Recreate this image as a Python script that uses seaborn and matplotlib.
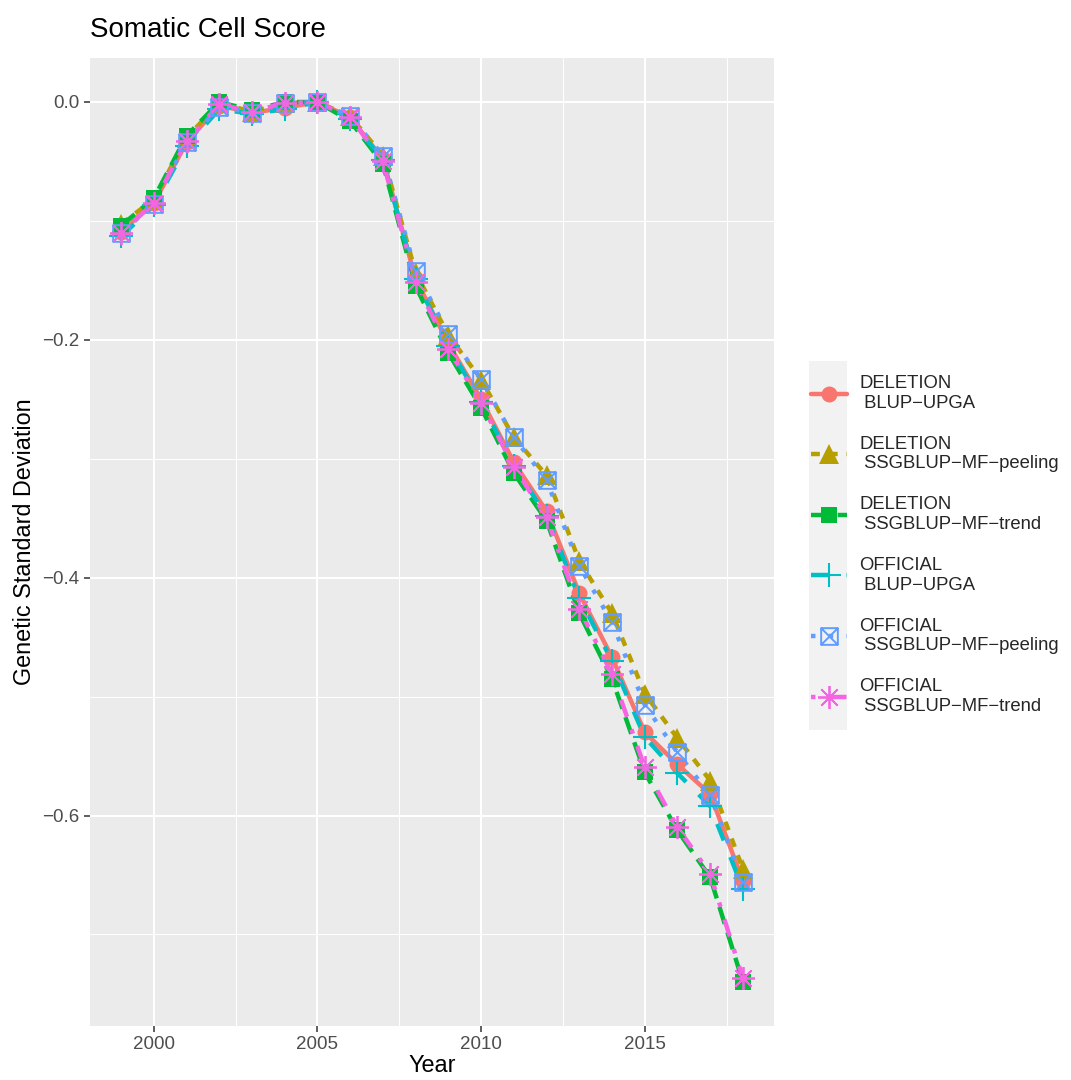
import numpy as np
import pandas as pd
import matplotlib
matplotlib.use("Agg")
import matplotlib.pyplot as plt
from matplotlib.path import Path
from matplotlib.lines import Line2D
from matplotlib.patches import Rectangle
import seaborn as sns

# ---------------- data ----------------
years = list(range(1999, 2019))

deletion_blup_upga = [-0.109, -0.085, -0.034, -0.003, -0.009, -0.005, 0.000, -0.013, -0.048, -0.149,
                      -0.203, -0.250, -0.303, -0.344, -0.413, -0.467, -0.530, -0.557, -0.582, -0.655]
deletion_ssgblup_peeling = [-0.1025, -0.082, -0.030, -0.001, -0.008, -0.001, 0.000, -0.012, -0.045, -0.1435,
                            -0.196, -0.2335, -0.282, -0.314, -0.386, -0.430, -0.4975, -0.535, -0.5706, -0.645]
deletion_ssgblup_trend = [-0.104, -0.081, -0.0285, 0.000, -0.007, 0.000, 0.000, -0.016, -0.052, -0.155,
                          -0.211, -0.257, -0.312, -0.352, -0.430, -0.485, -0.5636, -0.6126, -0.652, -0.740]
official_blup_upga = [-0.113, -0.087, -0.037, -0.006, -0.010, -0.006, 0.000, -0.014, -0.049, -0.149,
                      -0.205, -0.252, -0.306, -0.348, -0.417, -0.470, -0.534, -0.5645, -0.592, -0.6616]
official_ssgblup_peeling = [-0.110, -0.086, -0.034, -0.004, -0.009, -0.001, 0.000, -0.012, -0.045, -0.142,
                            -0.195, -0.233, -0.282, -0.318, -0.390, -0.4375, -0.507, -0.547, -0.583, -0.656]
official_ssgblup_trend = [-0.110, -0.085, -0.033, -0.002, -0.008, -0.001, 0.000, -0.013, -0.050, -0.151,
                          -0.208, -0.253, -0.307, -0.349, -0.426, -0.481, -0.5595, -0.610, -0.649, -0.737]

series_labels = ["DELETION\n BLUP\u2212UPGA",
                 "DELETION\n SSGBLUP\u2212MF\u2212peeling",
                 "DELETION\n SSGBLUP\u2212MF\u2212trend",
                 "OFFICIAL\n BLUP\u2212UPGA",
                 "OFFICIAL\n SSGBLUP\u2212MF\u2212peeling",
                 "OFFICIAL\n SSGBLUP\u2212MF\u2212trend"]
series_values = [deletion_blup_upga, deletion_ssgblup_peeling, deletion_ssgblup_trend,
                 official_blup_upga, official_ssgblup_peeling, official_ssgblup_trend]

x_ticks = [2000, 2005, 2010, 2015]
y_ticks = [-0.6, -0.4, -0.2, 0.0]
y_tick_labels = ["\u22120.6", "\u22120.4", "\u22120.2", "0.0"]

title_text = "Somatic Cell Score"
x_title = "Year"
y_title = "Genetic Standard Deviation"

df = pd.DataFrame({
    "Year": np.tile(years, len(series_labels)),
    "Value": np.concatenate(series_values),
    "Method": np.repeat(series_labels, len(years)),
})

# ---------------- styles ----------------
colors = ["#F8766D", "#B79F00", "#00BA38", "#00BFC4", "#619CFF", "#F564E3"]
box_x = Path([(-1, -1), (1, -1), (1, 1), (-1, 1), (-1, -1), (-1, -1), (1, 1), (-1, 1), (1, -1)],
             [Path.MOVETO, Path.LINETO, Path.LINETO, Path.LINETO, Path.CLOSEPOLY,
              Path.MOVETO, Path.LINETO, Path.MOVETO, Path.LINETO])
markers = ["o", "^", "s", "+", box_x, (8, 2, 0)]
filled = [True, True, True, False, False, False]
msizes = [11.5, 14.0, 11.5, 17.0, 12.0, 16.5]
mews = [0, 0, 0, 1.5, 1.4, 1.3]
linestyles = ["-", (0, (2, 2)), (0, (4, 2)), (0, (4, 4)), (0, (1, 3)), (0, (1, 3, 4, 3))]
LW = 3.2

sns.set_style("darkgrid", {"axes.facecolor": "#EBEBEB", "grid.color": "white"})
plt.rcParams["font.family"] = ["Liberation Sans", "DejaVu Sans"]

W, H = 1071, 1080
fig = plt.figure(figsize=(W / 100, H / 100), dpi=100)
fig.patch.set_facecolor("white")
pl, pr, pt, pb = 90, 774, 58, 1026
ax = fig.add_axes([pl / W, 1 - pb / H, (pr - pl) / W, (pb - pt) / H])

# lines first (all), then points (all) like ggplot layers
for lab, c, ls in zip(series_labels, colors, linestyles):
    sub = df[df["Method"] == lab]
    sns.lineplot(data=sub, x="Year", y="Value", color=c, linewidth=LW, linestyle=ls,
                 ax=ax, legend=False, errorbar=None, zorder=2)
for lab, c, m, f, ms, mw in zip(series_labels, colors, markers, filled, msizes, mews):
    sub = df[df["Method"] == lab]
    sns.lineplot(data=sub, x="Year", y="Value", color=c, linestyle="", marker=m,
                 markersize=ms, markerfacecolor=(c if f else "none"), markeredgecolor=c,
                 markeredgewidth=mw, ax=ax, legend=False, errorbar=None, zorder=3)

# scales
xr = max(years) - min(years)
ax.set_xlim(min(years) - 0.05 * xr, max(years) + 0.05 * xr)
allv = np.concatenate(series_values)
yr = allv.max() - allv.min()
ax.set_ylim(allv.min() - 0.05 * yr, allv.max() + 0.05 * yr)
ax.set_xticks(x_ticks)
ax.set_xticks([2002.5, 2007.5, 2012.5, 2017.5], minor=True)
ax.set_yticks(y_ticks)
ax.set_yticklabels(y_tick_labels)
ax.set_yticks([-0.7, -0.5, -0.3, -0.1], minor=True)
ax.grid(which="major", color="white", linewidth=1.5)
ax.grid(which="minor", color="white", linewidth=0.75)
ax.set_axisbelow(True)
for s in ax.spines.values():
    s.set_visible(False)
ax.tick_params(which="major", length=4.0, width=1.1, color="#333333", labelsize=13.5,
               labelcolor="#4D4D4D", pad=3.5, bottom=True, left=True)
ax.tick_params(which="minor", length=0)

ax.set_xlabel(x_title, fontsize=16.8, color="black")
ax.set_ylabel(y_title, fontsize=16.8, color="black")
ax.xaxis.label.set(va="center", ha="center")
ax.xaxis.set_label_coords(0.5, (pb - 1066) / (pb - pt))
ax.yaxis.label.set(va="center", ha="center", rotation_mode="anchor")
ax.yaxis.set_label_coords((24 - pl) / (pr - pl), 0.5)

fig.text(pl / W, 1 - 37 / H, title_text, fontsize=20, color="black", ha="left", va="baseline")

# legend
handles = []
for c, m, f, ms, mw, ls in zip(colors, markers, filled, msizes, mews, linestyles):
    handles.append(Line2D([], [], color=c, linewidth=LW, linestyle=ls, marker=m, markersize=ms,
                          markerfacecolor=(c if f else "none"), markeredgecolor=c,
                          markeredgewidth=mw))
leg = ax.legend(handles, series_labels, loc="center left",
                bbox_to_anchor=(811 / W, 1 - 545 / H), bbox_transform=fig.transFigure,
                frameon=False, borderpad=0, borderaxespad=0, handlelength=1.95,
                handletextpad=0.65, labelspacing=1.3, fontsize=13.3, numpoints=1)
fig.add_artist(Rectangle((809 / W, 1 - 730 / H), 38 / W, 369 / H, transform=fig.transFigure,
                         facecolor="#F2F2F2", edgecolor="none", zorder=-1))

fig.savefig("out.png", dpi=100)
